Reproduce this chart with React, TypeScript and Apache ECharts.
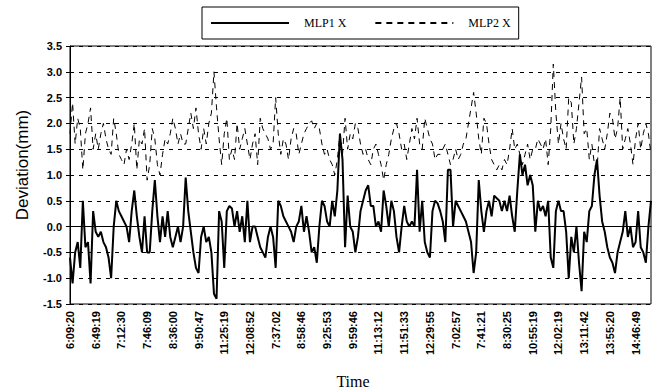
import React, { useEffect, useRef } from "react";
import * as echarts from "echarts";

const tickLabels = [
  "6:09:20", "6:49:19", "7:12:30", "7:46:09", "8:36:00", "9:50:47", "11:25:19", "12:08:52",
  "7:37:02", "8:58:46", "9:25:53", "9:59:46", "11:13:12", "11:51:33", "12:29:55", "7:02:57",
  "7:41:21", "8:30:25", "10:55:19", "12:02:19", "13:11:42", "13:55:20", "14:46:49",
];

const mlp1X = [
  -0.6, -1.1, -0.5, -0.3, -0.8, 0.5, -0.4, -0.3, -1.1, 0.3,
  -0.1, -0.2, -0.1, -0.3, -0.4, -0.6, -1.0, 0.0, 0.5, 0.3,
  0.2, 0.1, 0.0, -0.3, 0.3, 0.7, 0.2, -0.2, -0.5, 0.2,
  -0.5, -0.5, 0.3, 0.9, 0.2, -0.3, 0.2, -0.2, 0.3, -0.2,
  -0.4, -0.2, 0.0, -0.3, 0.0,
  0.95, 0.3, -0.1, -0.5, -0.8, -0.9, -0.2, 0.0, -0.3, -0.2,
  -0.5, -1.3, -1.4, 0.3, 0.1, -0.8, 0.3, 0.4, 0.35, 0.0,
  0.3, -0.1, 0.2, -0.3, 0.5, -0.3, 0.0, 0.0, -0.2, -0.4,
  -0.5, -0.6, -0.2, 0.0, -0.2, -0.8, 0.5, 0.4, 0.2, 0.1,
  0.0, -0.1, -0.3, 0.0, 0.1,
  0.4, -0.1, 0.2, -0.1, -0.5, -0.4, -0.7, 0.0, 0.5, 0.4,
  0.1, 0.0, 0.5, 0.2, 0.7, 1.8, 1.3, -0.4, 0.6, 0.0,
  -0.1, -0.5, -0.2, 0.3, 0.5, 0.7, 0.8, 0.4, 0.4, 0.0,
  0.1, -0.1, 0.7, 0.4, 0.0, 0.5, 0.3, -0.2, -0.5, 0.0,
  0.4, 0.1, 0.0, 0.1, 0.0, 1.1,
  -0.1, 0.5, -0.3, -0.5, -0.6, 0.3, 0.5, 0.45, 0.3, 0.1,
  -0.3, 1.1, 1.1, 0.0, 0.5, 0.4, 0.3, 0.2, 0.1, -0.1,
  -0.3, -0.9, -0.5, 0.9, 0.3, -0.1, 0.3, 0.5, 0.2, 0.6,
  0.55, 0.5, 0.3, 0.5, 0.3, 0.6, 0.2, -0.1, 0.7, 1.4,
  1.0, 1.2, 0.8, 1.0, 0.8,
  -0.1, 0.5, 0.3, 0.4, 0.2, 0.5, -0.6, -0.8, 0.3, 0.5,
  0.3, 0.3, -0.1, -1.0, -0.2, -0.5, 0.0, -0.7, -1.25, -0.1,
  -0.3, 0.3, 0.4, 1.0, 1.3, 0.6, 0.1, -0.1, -0.4, -0.6,
  -0.7, -0.9, -0.5, -0.3, -0.1, 0.3, -0.2, 0.0, -0.4, -0.3,
  0.3, -0.4, -0.5, -0.7, 0.0, 0.5,
];

const mlp2X = [
  1.8, 2.4, 1.6, 2.1, 1.9, 1.1, 1.8, 2.0, 2.3, 1.5,
  1.8, 1.5, 1.8, 2.0, 1.7, 1.5, 1.4, 2.1, 1.8, 1.4,
  1.3, 1.2, 1.5, 1.3, 1.6, 2.0, 1.1, 1.7, 1.6, 1.9,
  0.9, 1.2, 1.9, 1.7, 1.2, 1.0, 1.4, 1.7, 1.6, 1.8,
  2.1, 1.9, 1.6, 1.8, 1.6,
  1.6, 1.9, 2.2, 1.9, 2.3, 1.8, 1.5, 1.9, 1.6, 2.0,
  2.2, 3.0, 2.3, 1.7, 1.2, 1.8, 2.1, 1.3, 1.5, 1.3,
  2.0, 1.5, 1.7, 1.9, 1.6, 1.3, 1.6, 1.8, 1.2, 2.1,
  1.9, 1.8, 1.7, 1.5, 1.6, 2.5, 1.8, 1.4, 1.7, 1.6,
  1.3, 1.7, 1.9, 1.8, 1.4,
  1.6, 1.8, 1.9, 2.0, 2.05, 1.9, 2.0, 1.9, 1.6, 1.4,
  1.5, 1.3, 1.2, 1.0, 1.3, 1.8, 1.4, 2.1, 1.5, 1.8,
  1.7, 2.0, 1.9, 1.6, 1.4, 1.5, 1.3, 1.2, 1.5, 1.6,
  1.4, 1.2, 0.9, 1.2, 1.4, 1.7, 1.9, 2.0, 1.8, 1.5,
  1.6, 1.3, 1.6, 1.9, 1.7, 2.1,
  1.6, 1.5, 2.1, 1.9, 1.7, 1.6, 1.3, 1.4, 1.4, 1.5,
  1.6, 1.4, 1.2, 1.3, 1.5, 1.3, 1.4, 1.6, 1.7, 2.0,
  2.3, 2.6, 2.2, 1.7, 1.4, 2.1, 2.0, 1.6, 1.3, 1.2,
  1.1, 1.2, 1.1, 1.3, 1.2, 1.5, 1.9, 1.5, 1.6, 1.4,
  1.2, 1.4, 1.6, 1.3, 1.5,
  1.5, 1.7, 1.6, 1.5, 1.7, 1.2, 1.9, 3.15, 2.2, 1.6,
  2.0, 1.7, 1.5, 2.5, 2.4, 1.6, 1.9, 2.4, 2.9, 1.8,
  1.9, 1.3, 1.6, 1.2, 1.1, 1.9, 1.7, 1.5, 1.8, 2.2,
  2.1, 1.7, 1.9, 2.5, 1.5, 1.7, 1.9, 1.6, 1.2, 1.7,
  2.0, 1.5, 1.8, 2.0, 1.8, 1.4,
];

const LABEL_STEP = 10;

export default function App() {
  const ref = useRef<HTMLDivElement>(null);

  useEffect(() => {
    if (!ref.current) return;
    const chart = echarts.init(ref.current, null, { renderer: "svg" });
    const n = Math.max(mlp1X.length, mlp2X.length);
    const categories = Array.from({ length: n }, (_, i) => String(i));

    chart.setOption({
      animation: false,
      backgroundColor: "#fff",
      legend: {
        left: 202,
        top: 7,
        padding: [10, 8, 10, 8],
        itemWidth: 78,
        itemHeight: 14,
        itemGap: 28,
        borderColor: "#000",
        borderWidth: 1,
        itemStyle: { opacity: 0 },
        textStyle: {
          fontFamily: "Liberation Serif",
          fontSize: 12,
          color: "#000",
          padding: [0, 0, 0, 10],
        },
        data: ["MLP1 X", "MLP2 X"],
      },
      grid: { left: 70, top: 46, right: 2, bottom: 88, show: true, borderColor: "#000", borderWidth: 1 },
      xAxis: {
        type: "category",
        boundaryGap: false,
        data: categories,
        axisLine: { lineStyle: { color: "#000", width: 1 } },
        axisTick: { show: false },
        axisLabel: {
          rotate: 90,
          interval: LABEL_STEP - 1,
          margin: 7,
          color: "#000",
          fontFamily: "Liberation Sans",
          fontWeight: "bold",
          fontSize: 11,
          formatter: (_v: string, idx: number) =>
            idx % LABEL_STEP === 0 ? tickLabels[idx / LABEL_STEP] ?? "" : "",
        },
        splitLine: { show: false },
      },
      yAxis: {
        type: "value",
        min: -1.5,
        max: 3.5,
        interval: 0.5,
        axisLine: { show: true, lineStyle: { color: "#000", width: 1 } },
        axisTick: { show: true, length: 4, lineStyle: { color: "#000" } },
        axisLabel: {
          color: "#000",
          fontFamily: "Liberation Sans",
          fontWeight: "bold",
          fontSize: 11,
          margin: 8,
          formatter: (v: number) => v.toFixed(1),
        },
        splitLine: { show: true, lineStyle: { color: "#000", width: 1, type: [4, 5] } },
      },
      graphic: [
        {
          type: "text",
          x: 22,
          y: 165,
          rotation: Math.PI / 2,
          style: {
            text: "Deviation(mm)",
            font: "17px 'Liberation Sans'",
            fill: "#000",
            textAlign: "center",
            textVerticalAlign: "middle",
          },
        },
        {
          type: "text",
          x: 353,
          y: 381,
          style: {
            text: "Time",
            font: "16px 'Liberation Serif'",
            fill: "#000",
            textAlign: "center",
            textVerticalAlign: "middle",
          },
        },
      ],
      series: [
        {
          name: "MLP1 X",
          type: "line",
          data: mlp1X,
          symbol: "none",
          lineStyle: { color: "#000", width: 2 },
          itemStyle: { color: "#000" },
          markLine: {
            silent: true,
            symbol: "none",
            label: { show: false },
            lineStyle: { color: "#000", width: 1, type: "solid" },
            data: [{ yAxis: 0 }],
          },
          z: 3,
        },
        {
          name: "MLP2 X",
          type: "line",
          data: mlp2X,
          symbol: "none",
          lineStyle: { color: "#000", width: 1, type: [6, 5] },
          itemStyle: { color: "#000" },
          z: 2,
        },
      ],
    });

    return () => chart.dispose();
  }, []);

  return (
    <div
      ref={ref}
      style={{ position: "fixed", left: 0, top: 0, width: 653, height: 392, background: "#fff" }}
    />
  );
}
